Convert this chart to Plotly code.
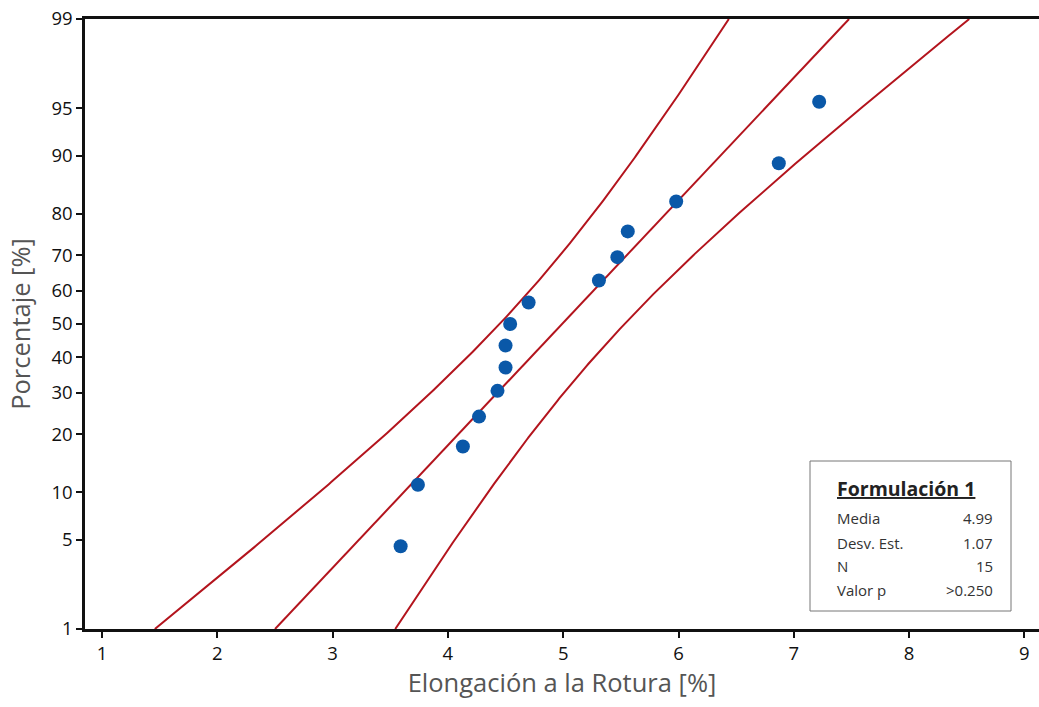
from statistics import NormalDist
import numpy as np
import plotly.graph_objects as go

# Elongation at break, sorted, and their plotting positions (percent)
elongacion = [3.59, 3.74, 4.13, 4.27, 4.43, 4.50, 4.50, 4.54, 4.70,
              5.31, 5.47, 5.56, 5.98, 6.87, 7.22]
porcentaje = [4.5, 11.0, 17.5, 24.0, 30.5, 37.0, 43.5, 50.0, 56.5,
              63.0, 69.5, 76.0, 82.5, 89.0, 95.5]

# Summary statistics shown in the box
media = 4.99
desv_est = 1.07
n_obs = 15
valor_p = ">0.250"

# Probability-axis ticks
y_ticks = [1, 5, 10, 20, 30, 40, 50, 60, 70, 80, 90, 95, 99]
x_ticks = [1, 2, 3, 4, 5, 6, 7, 8, 9]

nd = NormalDist()


def zq(p):
    return nd.inv_cdf(p / 100.0)


z_lo, z_hi = zq(1), zq(99)

# Fitted normal line with 95% confidence band
z_grid = np.linspace(z_lo, z_hi, 300)
x_fit = media + desv_est * z_grid
half = 1.96 * desv_est * np.sqrt((1 + z_grid ** 2 / 2) / n_obs)
x_left = x_fit - half
x_right = x_fit + half

red = "#B3141D"
blue = "#0A58A8"

fig = go.Figure()
for xs in (x_left, x_fit, x_right):
    fig.add_trace(go.Scatter(x=xs, y=z_grid, mode="lines",
                             line=dict(color=red, width=2),
                             hoverinfo="skip", showlegend=False))

fig.add_trace(go.Scatter(x=elongacion, y=[zq(p) for p in porcentaje],
                         mode="markers",
                         marker=dict(color=blue, size=14),
                         showlegend=False))

W, H = 1039, 707
L, R, T, B = 85, 0, 19, 78
pw, ph = W - L - R, H - T - B


def px(x):
    return (x - L) / pw


def py(y):
    return (H - B - y) / ph


fig.update_layout(
    width=W, height=H,
    margin=dict(l=L, r=R, t=T, b=B),
    plot_bgcolor="white", paper_bgcolor="white",
    font=dict(family="Open Sans", color="#222"),
    xaxis=dict(
        range=[1 - 17 / 115.3, 1 + 937 / 115.3],
        tickvals=x_ticks, ticktext=[str(v) for v in x_ticks],
        showgrid=False, zeroline=False,
        showline=True, linecolor="#111", linewidth=2.5, mirror=True,
        ticks="outside", ticklen=6, tickwidth=2, tickcolor="#111",
        tickfont=dict(size=18.5, color="#111"),
        title=dict(text="Elongación a la Rotura [%]",
                   font=dict(size=25.5, color="#555"), standoff=11),
    ),
    yaxis=dict(
        range=[z_lo, z_hi],
        tickvals=[zq(v) for v in y_ticks],
        ticktext=[str(v) for v in y_ticks],
        showgrid=False, zeroline=False,
        showline=True, linecolor="#111", linewidth=2.5,
        ticks="outside", ticklen=6, tickwidth=2, tickcolor="#111",
        tickfont=dict(size=18.5, color="#111"),
        title=dict(text="Porcentaje [%]",
                   font=dict(size=25.5, color="#555"), standoff=14),
    ),
)

# Summary box
fig.add_shape(type="rect", xref="paper", yref="paper",
              x0=px(810), x1=px(1011), y0=py(611), y1=py(461),
              line=dict(color="#777", width=1), fillcolor="white",
              layer="above")

fig.add_annotation(xref="paper", yref="paper", x=px(835), y=py(488),
                   xanchor="left", yanchor="middle", showarrow=False,
                   text="<b>Formulación 1</b>",
                   font=dict(size=19.5, color="#222", lineposition="under"))

rows = [("Media", f"{media:.2f}"), ("Desv. Est.", f"{desv_est:.2f}"),
        ("N", str(n_obs)), ("Valor p", valor_p)]
row_y = [518, 543, 566, 590]
for (lab, val), yy in zip(rows, row_y):
    fig.add_annotation(xref="paper", yref="paper", x=px(835), y=py(yy),
                       xanchor="left", yanchor="middle", showarrow=False,
                       text=lab, font=dict(size=15, color="#333"))
    fig.add_annotation(xref="paper", yref="paper", x=px(995), y=py(yy),
                       xanchor="right", yanchor="middle", showarrow=False,
                       text=val, font=dict(size=15, color="#333"))

fig.write_html("out.html")
